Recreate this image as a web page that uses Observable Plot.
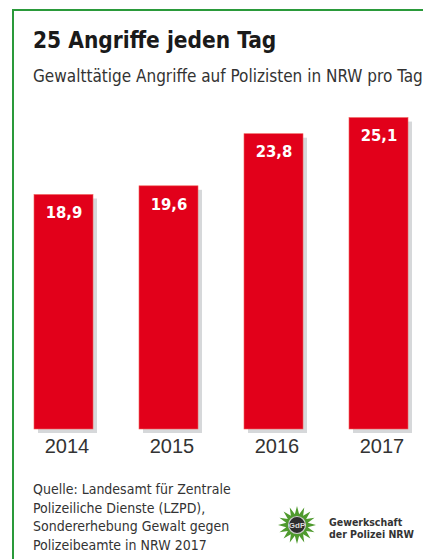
<!DOCTYPE html>
<html>
<head>
<meta charset="utf-8">
<script src="https://cdn.jsdelivr.net/npm/d3@7"></script>
<script src="https://cdn.jsdelivr.net/npm/@observablehq/plot@0.6"></script>
<style>
  html, body { margin: 0; padding: 0; background: #fff; }
  #page { position: relative; width: 423px; height: 559px; overflow: hidden; background: #fff; }
  #frame { position: absolute; left: 12px; top: 9px; width: 440px; height: 560px; border-left: 2px solid #2a9a3a; border-top: 2px solid #2a9a3a; box-sizing: border-box; }
  .cond { font-family: "Liberation Sans Narrow", "DejaVu Sans Condensed", sans-serif; }
  #title { position: absolute; left: 33px; top: 27px; font-size: 22.5px; font-weight: bold; color: #1a1a1a; white-space: nowrap; }
  #subtitle { position: absolute; left: 33px; top: 66px; font-size: 17px; color: #333; white-space: nowrap; }
  #chart { position: absolute; left: 0; top: 90px; }
  #source { position: absolute; left: 33px; top: 480px; font-size: 14px; line-height: 18.5px; color: #333; white-space: nowrap; }
  #logo { position: absolute; left: 277px; top: 505px; }
  #logotext { position: absolute; left: 329px; top: 516px; font-size: 10.5px; line-height: 12px; font-weight: bold; color: #333; white-space: nowrap; }
</style>
</head>
<body>
<div id="page">
  <div id="frame"></div>
  <div id="title" class="cond">25 Angriffe jeden Tag</div>
  <div id="subtitle" class="cond">Gewalttätige Angriffe auf Polizisten in NRW pro Tag</div>
  <div id="chart"></div>
  <div id="source" class="cond">Quelle: Landesamt für Zentrale<br>Polizeiliche Dienste (LZPD),<br>Sondererhebung Gewalt gegen<br>Polizeibeamte in NRW 2017</div>
  <svg id="logo" width="40" height="40" viewBox="-20 -20 40 40"></svg>
  <div id="logotext" class="cond">Gewerkschaft<br>der Polizei NRW</div>
</div>
<script>
const years = ["2014", "2015", "2016", "2017"];
const values = [18.9, 19.6, 23.8, 25.1];
const valueLabels = ["18,9", "19,6", "23,8", "25,1"];

const data = years.map((year, i) => ({year, value: values[i], label: valueLabels[i]}));

const chart = Plot.plot({
  width: 423,
  height: 380,
  marginLeft: 33,
  marginRight: 13,
  marginTop: 4,
  marginBottom: 41,
  style: {background: "transparent", color: "#333", fontFamily: "'Liberation Sans', Arial, sans-serif", overflow: "visible"},
  x: {domain: years, paddingInner: 0.434, paddingOuter: 0, axis: null, label: null},
  y: {domain: [0, 27], axis: null},
  marks: [
    Plot.barY(data, {x: "year", y: "value", fill: "#d6d8da", dx: 4, dy: 4}),
    Plot.barY(data, {x: "year", y: "value", fill: "#e2001a", stroke: "#f0605a", strokeWidth: 0.6}),
    Plot.text(data, {x: "year", y: "value", text: "label", dy: 18, fill: "#fff", fontSize: 16.5, fontWeight: "bold", fontFamily: "'Liberation Sans Narrow', 'DejaVu Sans Condensed', sans-serif"}),
    Plot.axisX({domain: years, label: null, tickSize: 0, tickPadding: 9, dx: 3, fontSize: 20, fill: "#333"})
  ]
});
document.getElementById("chart").appendChild(chart);

// decorative logo (star badge)
const logo = d3.select("#logo");
const pts = [];
const n = 16;
for (let i = 0; i < 2 * n; i++) {
  const r = i % 2 === 0 ? 19 : 11;
  const a = Math.PI * i / n - Math.PI / 2;
  pts.push([r * Math.cos(a), r * Math.sin(a)]);
}
logo.append("polygon").attr("points", pts.map(p => p.join(",")).join(" ")).attr("fill", "#4f9a2e");
logo.append("circle").attr("r", 8.5).attr("fill", "#2d2d2d").attr("stroke", "#ccc").attr("stroke-width", 1.2);
logo.append("text").attr("text-anchor", "middle").attr("dy", "0.35em").attr("font-size", 8).attr("font-weight", "bold").attr("fill", "#ddd").attr("font-family", "sans-serif").text("GdP");
</script>
</body>
</html>
